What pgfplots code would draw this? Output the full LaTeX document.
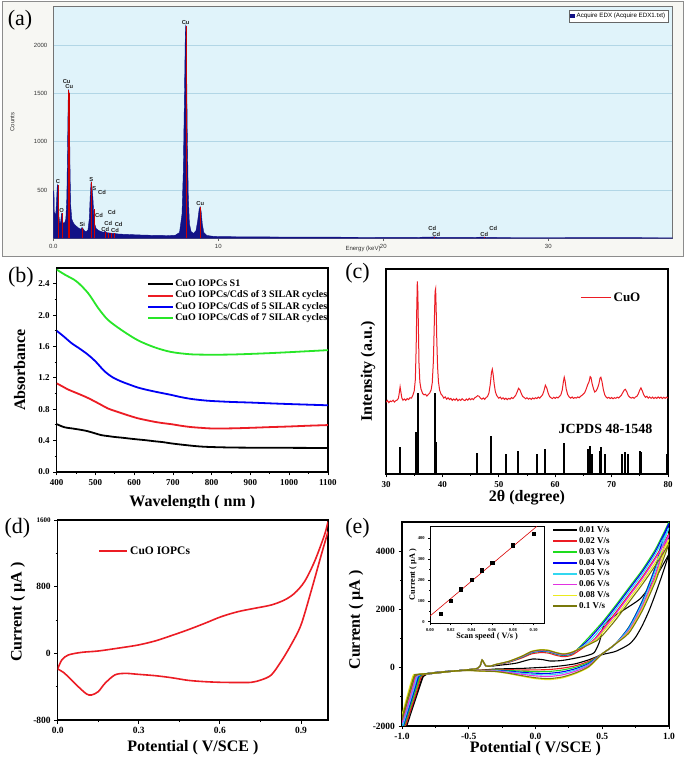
\documentclass[border=0pt]{standalone}
\usepackage{pgfplots}
\pgfplotsset{compat=1.18}
\usepackage{fontspec}
\setmainfont{Liberation Serif}
\newfontfamily\arial{Liberation Sans}

\definecolor{edxnavy}{RGB}{18,18,135}
\definecolor{edxbg}{RGB}{224,243,250}
\definecolor{edxgrid}{RGB}{178,214,230}
\definecolor{framebg}{RGB}{247,247,243}
\definecolor{cred}{RGB}{236,28,36}
\definecolor{cgreen}{RGB}{30,220,30}
\definecolor{cblue}{RGB}{0,0,245}
\definecolor{ccyan}{RGB}{50,215,240}
\definecolor{cmag}{RGB}{225,50,225}
\definecolor{cyel}{RGB}{235,235,30}
\definecolor{colive}{RGB}{120,120,10}
\definecolor{bgreen}{RGB}{40,230,40}

\pgfplotsset{
  originstyle/.style={
    scale only axis, anchor=south west,
    axis line style={line width=1.4pt},
    tick align=outside, xtick pos=bottom, ytick pos=left,
    major tick length=3.5pt, minor tick length=2pt,
    tick style={black, line width=0.9pt},
    tick label style={font=\fontsize{9}{10}\selectfont\bfseries},
    /pgf/number format/assume math mode=true,
    /pgf/number format/1000 sep={},
    label style={font=\fontsize{16}{18}\selectfont\bfseries},
    legend cell align=left,
  },
}
\tikzset{lbl/.style={font=\arial\fontsize{5.8}{6}\selectfont\bfseries, text=black!85, inner sep=0pt}}

\begin{document}
\begin{tikzpicture}
\useasboundingbox (0pt,0pt) rectangle (685pt,767pt);
\fill[white] (0pt,0pt) rectangle (685pt,767pt);
\filldraw[fill=framebg, draw=black!45, line width=0.7pt] (2pt,511pt) rectangle (683pt,766pt);

% ---------------- (a) EDX ----------------
\begin{axis}[scale only axis, anchor=south west, at={(53.3pt,528.7pt)},
  width=619.4pt, height=232.3pt,
  xmin=0, xmax=37.54, ymin=0, ymax=2403,
  axis background/.style={fill=edxbg},
  axis line style={draw=black!55, line width=0.6pt},
  xtick={0,10,20,30}, xticklabels={0.0,10,20,30},
  ytick={500,1000,1500,2000},
  ymajorgrids, grid style={edxgrid, line width=0.7pt},
  tick align=outside, xtick pos=bottom, ytick pos=left,
  major tick length=2.5pt,
  xtick style={black!60, line width=0.5pt}, ytick style={draw=none},
  tick label style={font=\arial\fontsize{6}{7}\selectfont, text=black!80},
  /pgf/number format/assume math mode=true, /pgf/number format/1000 sep={},
  xlabel={Energy (keV)}, ylabel={Counts},
  label style={font=\arial\fontsize{6}{7}\selectfont, text=black!80},
  xlabel style={at={(axis description cs:0.5,0)}, anchor=center, yshift=-11pt},
  ylabel style={at={(axis description cs:0,0.5)}, anchor=center, yshift=41pt},
  legend style={at={(axis description cs:1,1)}, anchor=north east, xshift=-4.5pt, yshift=-4pt,
    font=\arial\fontsize{6.2}{6.5}\selectfont, draw=black!60, fill=white, inner sep=0.8pt},
  legend image code/.code={\fill[edxnavy] (0pt,-1.7pt) rectangle (4.5pt,1.7pt);},
]
\addplot[fill=edxnavy, draw=edxnavy, line width=0.4pt] coordinates {
(0,0) (0.01,490) (0.04,480) (0.06,270) (0.1,255) (0.15,245) (0.2,400) (0.24,540) (0.27,555)
(0.3,470) (0.34,230) (0.4,150) (0.45,175) (0.5,258) (0.54,245) (0.58,165) (0.63,155) (0.7,165)
(0.76,200) (0.82,420) (0.86,900) (0.9,1420) (0.93,1540) (0.96,1500) (0.99,1100) (1.02,640)
(1.06,330) (1.12,200) (1.2,165) (1.3,140) (1.4,125) (1.5,110) (1.6,100) (1.68,95) (1.74,112)
(1.8,100) (1.9,75) (2.0,70) (2.1,85) (2.18,200) (2.24,450) (2.29,585) (2.34,540) (2.4,420)
(2.45,250) (2.5,150) (2.6,100) (2.75,80) (2.9,70) (3.05,62) (3.13,72) (3.25,58) (3.4,55)
(3.55,52) (3.7,50) (3.9,45) (4.2,42) (4.5,40) (5,36) (5.5,33) (6,31) (6.5,30) (7,28) (7.4,32)
(7.65,60) (7.8,250) (7.88,700) (7.95,1500) (8.0,2100) (8.03,2210) (8.07,1950) (8.12,1100)
(8.18,450) (8.25,150) (8.35,70) (8.5,50) (8.65,80) (8.75,180) (8.84,300) (8.9,328) (8.96,280)
(9.03,150) (9.12,60) (9.3,30) (9.6,22) (10,18) (11,16) (12,15) (14,13) (16,12) (18,11) (20,10)
(22,10) (23.1,14) (23.3,10) (25,9) (26.1,12) (26.4,9) (28,8) (30,8) (33,7) (36,6) (37.6,5)
} \closedcycle;
\addlegendentry{Acquire EDX (Acquire EDX1.txt)}
\addplot[ycomb, mark=none, draw=red!80!black, line width=0.45pt, forget plot] coordinates {
(0.277,550) (0.525,258) (0.93,1530) (0.95,1500) (1.74,110) (2.31,580) (2.46,300)
(3.13,70) (3.32,58) (3.53,52) (3.72,50) (8.04,2200) (8.9,328) (23.1,14) (26.1,12)};
\node[lbl] at (axis cs:8.02,2234) {Cu};
\node[lbl] at (axis cs:0.81,1627) {Cu};
\node[lbl] at (axis cs:0.97,1568) {Cu};
\node[lbl] at (axis cs:0.28,585) {C};
\node[lbl] at (axis cs:0.51,285) {O};
\node[lbl] at (axis cs:1.76,148) {Si};
\node[lbl] at (axis cs:2.30,613) {S};
\node[lbl] at (axis cs:2.48,517) {S};
\node[lbl] at (axis cs:2.95,472) {Cd};
\node[lbl] at (axis cs:2.77,241) {Cd};
\node[lbl] at (axis cs:3.54,269) {Cd};
\node[lbl] at (axis cs:3.33,151) {Cd};
\node[lbl] at (axis cs:3.96,141) {Cd};
\node[lbl] at (axis cs:3.15,93) {Cd};
\node[lbl] at (axis cs:3.74,86) {Cd};
\node[lbl] at (axis cs:8.91,365) {Cu};
\node[lbl] at (axis cs:22.97,99) {Cd};
\node[lbl] at (axis cs:23.21,41) {Cd};
\node[lbl] at (axis cs:26.67,99) {Cd};
\node[lbl] at (axis cs:26.12,41) {Cd};
\end{axis}

% ---------------- (b) Absorbance ----------------
\begin{axis}[originstyle, at={(56.7pt,295pt)}, width=271.3pt, height=204pt,
  xmin=400, xmax=1100, ymin=0, ymax=2.6,
  xtick={400,500,...,1100}, minor x tick num=1,
  ytick={0,0.4,0.8,1.2,1.6,2.0,2.4}, minor y tick num=1,
  yticklabel style={/pgf/number format/fixed, /pgf/number format/fixed zerofill, /pgf/number format/precision=1},
  xlabel={Wavelength ( nm )}, ylabel={Absorbance},
  xlabel style={at={(axis description cs:0.5,0)}, anchor=center, yshift=-31pt},
  ylabel style={at={(axis description cs:0,0.5)}, anchor=center, yshift=37pt},
  legend style={at={(axis description cs:0.322,0.958)}, anchor=north west, draw=none, fill=none,
    font=\fontsize{10}{11}\selectfont\bfseries, nodes={inner sep=1pt, text height=7pt, text depth=2.2pt}},
  legend image code/.code={\draw[#1, line width=2pt] (0pt,0pt) -- (25pt,0pt);},
  every axis plot/.append style={line width=1.8pt, smooth},
]
\addplot[black] coordinates {(400,0.61) (420,0.57) (440,0.555) (464,0.536) (480,0.52) (498,0.494) (515,0.47) (532,0.458) (550,0.446) (567,0.438) (590,0.425) (609,0.415) (630,0.405) (652,0.392) (675,0.38) (695,0.365) (720,0.35) (746,0.336) (770,0.325) (800,0.318) (850,0.312) (900,0.31) (950,0.31) (1000,0.308) (1050,0.307) (1100,0.306)};
\addlegendentry{CuO IOPCs S1}
\addplot[cred] coordinates {(400,1.13) (415,1.09) (430,1.05) (447,1.015) (464,0.98) (480,0.945) (498,0.90) (515,0.855) (532,0.81) (550,0.778) (567,0.75) (590,0.713) (609,0.685) (630,0.662) (652,0.64) (675,0.622) (695,0.61) (720,0.59) (746,0.573) (775,0.562) (800,0.555) (850,0.556) (900,0.563) (950,0.572) (1000,0.58) (1050,0.59) (1100,0.598)};
\addlegendentry{CuO IOPCs/CdS of 3 SILAR cycles}
\addplot[cblue] coordinates {(400,1.80) (420,1.72) (438,1.643) (460,1.57) (481,1.494) (500,1.41) (524,1.281) (545,1.205) (567,1.153) (590,1.11) (609,1.077) (630,1.05) (652,1.026) (675,1.003) (695,0.983) (720,0.955) (746,0.932) (775,0.915) (800,0.905) (850,0.893) (900,0.885) (950,0.875) (1000,0.866) (1050,0.858) (1100,0.85)};
\addlegendentry{CuO IOPCs/CdS of 5 SILAR cycles}
\addplot[bgreen] coordinates {(400,2.58) (421,2.515) (451,2.43) (481,2.28) (507,2.09) (532,1.94) (567,1.81) (609,1.68) (652,1.59) (695,1.53) (746,1.50) (800,1.495) (850,1.497) (900,1.505) (950,1.515) (1000,1.527) (1050,1.54) (1100,1.553)};
\addlegendentry{CuO IOPCs/CdS of 7 SILAR cycles}
\end{axis}
\fill[white] (90pt,250pt) rectangle (310pt,259pt);

% ---------------- (c) XRD ----------------
\begin{axis}[originstyle, at={(386pt,293pt)}, width=282pt, height=205pt,
  xmin=30, xmax=80, ymin=0, ymax=100,
  xtick={30,40,...,80}, minor x tick num=1, ytick=\empty,
  xlabel={2θ (degree)}, ylabel={Intensity (a.u.)},
  xlabel style={at={(axis description cs:0.5,0)}, anchor=center, yshift=-23.5pt},
  ylabel style={at={(axis description cs:0,0.5)}, anchor=center, yshift=18pt},
  legend style={at={(axis description cs:0.688,0.86)}, anchor=west, draw=none, fill=none,
    font=\fontsize{13}{14}\selectfont\bfseries, inner sep=0pt},
  legend image code/.code={\draw[#1, line width=1.4pt] (0pt,0pt) -- (30pt,0pt);},
]
\addplot[cred, line width=1pt] coordinates {
(30.00,35.0) (30.25,35.9) (30.50,34.8) (30.75,35.6) (31.00,35.3) (31.25,36.0) (31.50,35.1) (31.75,35.8) (32.00,36.1)
(32.20,37.0) (32.35,39.5) (32.50,42.5) (32.65,39.8) (32.80,37.2) (33.00,36.0)
(33.25,36.6) (33.50,35.9) (33.75,36.8) (34.00,36.3) (34.25,37.2) (34.50,37.0) (34.75,38.3) (35.00,40.5)
(35.20,46) (35.35,62) (35.45,80) (35.55,94.0) (35.65,88) (35.75,70) (35.85,54) (36.0,45) (36.2,41.5)
(36.5,39.2) (36.75,38.6) (37.0,38.9) (37.25,38.0) (37.5,38.8) (37.75,39.5) (38.0,41.0) (38.2,44.5)
(38.4,55) (38.55,72) (38.7,89) (38.8,90.3) (38.9,80) (39.0,66) (39.15,52) (39.3,45) (39.5,41)
(39.75,39.0) (40.0,38.2) (40.25,37.0) (40.5,37.6) (40.75,36.5) (41.0,37.2) (41.25,36.3) (41.5,36.9)
(41.75,35.9) (42.0,36.6) (42.25,36.0) (42.5,36.8) (42.75,35.7) (43.0,36.4) (43.25,35.9) (43.5,36.7)
(43.75,36.1) (44.0,35.8) (44.25,36.6) (44.5,36.0) (44.75,36.9) (45.0,36.2) (45.25,36.8) (45.5,36.3)
(45.75,37.2) (46.0,37.6) (46.25,38.2) (46.5,37.9) (46.75,37.0) (47.0,36.5) (47.25,37.1) (47.5,36.4)
(47.75,37.3) (48.0,37.8) (48.25,39.5) (48.5,44) (48.7,49.5) (48.85,51.1) (49.0,48.5) (49.2,43.5)
(49.4,40.0) (49.6,38.5) (49.8,37.6) (50.0,37.0) (50.25,37.5) (50.5,36.6) (50.75,37.2) (51.0,36.4)
(51.25,37.0) (51.5,36.3) (51.75,36.9) (52.0,36.5) (52.25,37.3) (52.5,36.8) (52.75,37.6) (53.0,38.4)
(53.25,40.0) (53.5,41.8) (53.75,41.0) (54.0,39.2) (54.25,37.8) (54.5,37.3) (54.75,36.7) (55.0,37.2)
(55.25,36.5) (55.5,37.0) (55.75,36.4) (56.0,37.1) (56.25,36.6) (56.5,37.2) (56.75,36.8) (57.0,37.5)
(57.25,37.0) (57.5,37.8) (57.75,38.6) (58.0,40.5) (58.25,43.3) (58.5,42.0) (58.75,39.5) (59.0,37.8)
(59.25,37.2) (59.5,36.8) (59.75,37.4) (60.0,36.9) (60.25,37.5) (60.5,37.1) (60.75,37.8) (61.0,38.6)
(61.25,41.0) (61.45,45) (61.6,47.2) (61.75,45.5) (61.95,41.5) (62.2,38.8) (62.5,37.5) (62.75,37.0)
(63.0,37.6) (63.25,36.9) (63.5,37.3) (63.75,37.0) (64.0,37.6) (64.25,37.2) (64.5,37.9) (64.75,38.4)
(65.0,39.0) (65.25,39.8) (65.5,41.5) (65.75,43.5) (66.0,45.0) (66.2,47.5) (66.35,47.0) (66.55,44.0)
(66.8,41.5) (67.0,40.0) (67.25,40.5) (67.5,41.8) (67.75,44.0) (67.95,46.8) (68.1,47.2) (68.3,45.0)
(68.55,41.0) (68.8,38.5) (69.0,37.6) (69.25,37.0) (69.5,37.4) (69.75,36.8) (70.0,37.3) (70.25,36.7)
(70.5,37.2) (70.75,36.9) (71.0,37.5) (71.25,37.1) (71.5,37.8) (71.75,38.5) (72.0,39.8) (72.25,41.0)
(72.45,41.3) (72.7,40.0) (72.95,38.3) (73.2,37.5) (73.5,37.0) (73.75,37.4) (74.0,36.9) (74.25,37.6)
(74.5,37.9) (74.75,39.2) (75.0,41.0) (75.2,42.0) (75.45,40.5) (75.7,38.6) (76.0,37.4) (76.25,37.9)
(76.5,37.0) (76.75,37.6) (77.0,36.9) (77.25,37.5) (77.5,36.8) (77.75,37.4) (78.0,36.9) (78.25,37.6)
(78.5,37.0) (78.75,37.5) (79.0,36.8) (79.25,37.4) (79.5,36.9) (79.75,37.5) (80.0,37.0)};
\addlegendentry{CuO}
\addplot[ycomb, mark=none, black, line width=2pt, forget plot] coordinates {
(32.5,13.1) (35.4,20.5) (35.6,39.4) (38.7,39.4) (38.95,15.4) (46.2,10.2) (48.7,18.3) (51.3,9.7)
(53.4,11.4) (56.7,9.7) (58.2,12.3) (61.5,15.3) (65.8,12.3) (66.2,13.5) (66.45,9.7) (67.9,11)
(68.1,13.3) (68.9,9.7) (71.8,9.7) (72.4,10.6) (72.9,9.7) (75.0,11) (75.25,10.7) (79.8,9.7)};
\node[font=\fontsize{14}{16}\selectfont\bfseries, anchor=center] at (axis description cs:0.778,0.22) {JCPDS 48-1548};
\end{axis}

% ---------------- (d) CV ----------------
\begin{axis}[originstyle, at={(57.7pt,47pt)}, width=270.3pt, height=200pt,
  xmin=0, xmax=1, ymin=-800, ymax=1600,
  xtick={0,0.3,0.6,0.9}, minor x tick num=1,
  ytick={-800,0,800,1600}, yticklabels={-800,0,800,{\fontsize{7}{8}\selectfont\bfseries 1600}}, minor y tick num=1,
  xticklabel style={/pgf/number format/fixed, /pgf/number format/fixed zerofill, /pgf/number format/precision=1},
  tick label style={font=\fontsize{9.5}{10}\selectfont\bfseries},
  xlabel={Potential ( V/SCE )}, ylabel={Current ( µA )},
  xlabel style={at={(axis description cs:0.5,0)}, anchor=center, yshift=-28pt},
  ylabel style={at={(axis description cs:0,0.54)}, anchor=center, yshift=40pt},
  legend style={at={(axis description cs:0.15,0.845)}, anchor=west, draw=none, fill=none,
    font=\fontsize{11.5}{12}\selectfont\bfseries, inner sep=0pt},
  legend image code/.code={\draw[#1, line width=1.8pt] (0pt,0pt) -- (28pt,0pt);},
]
\addplot[cred, line width=1.6pt, smooth, tension=0.5] coordinates {
(0,-188) (0.015,-80) (0.039,-20) (0.089,12) (0.15,28) (0.236,68) (0.298,100) (0.36,148) (0.42,212)
(0.48,280) (0.544,360) (0.605,440) (0.667,500) (0.728,540) (0.79,580) (0.839,640) (0.876,720)
(0.913,860) (0.95,1100) (0.987,1420) (1.0,1580)};
\addlegendentry{CuO IOPCs}
\addplot[cred, line width=1.6pt, smooth, tension=0.5, forget plot] coordinates {
(1.0,1460) (0.975,1180) (0.937,740) (0.9,340) (0.863,100) (0.826,-100) (0.79,-260) (0.752,-320)
(0.716,-348) (0.667,-350) (0.605,-348) (0.544,-340) (0.482,-324) (0.42,-292) (0.36,-268) (0.298,-252)
(0.248,-240) (0.211,-260) (0.175,-360) (0.15,-460) (0.125,-500) (0.107,-488) (0.076,-400) (0.045,-300)
(0.021,-228) (0,-188)};
\end{axis}

% ---------------- (e) CV scan rates ----------------
\begin{axis}[originstyle, at={(402pt,41pt)}, width=267pt, height=204pt,
  xmin=-1, xmax=1, ymin=-2000, ymax=5000,
  xtick={-1,-0.5,0,0.5,1}, minor x tick num=1,
  ytick={-2000,0,2000,4000}, minor y tick num=1,
  xticklabel style={/pgf/number format/fixed, /pgf/number format/fixed zerofill, /pgf/number format/precision=1},
  tick label style={font=\fontsize{9.5}{10}\selectfont\bfseries},
  xlabel={Potential ( V/SCE )}, ylabel={Current ( µA )},
  xlabel style={at={(axis description cs:0.5,0)}, anchor=center, yshift=-23pt},
  ylabel style={at={(axis description cs:0,0.52)}, anchor=center, yshift=46pt},
  legend style={at={(axis description cs:0.551,0.998)}, anchor=north west, draw=none, fill=none,
    font=\fontsize{9}{10}\selectfont\bfseries, nodes={inner sep=0.9pt, text height=6.8pt, text depth=2.3pt}},
  legend image code/.code={\draw[#1, line width=1.8pt] (0pt,0pt) -- (24pt,0pt);},
  every axis plot/.append style={line width=1.1pt, smooth, tension=0.4},
]
% black 0.01
\addplot[black] coordinates {(-0.965,-2000) (-0.92,-1380) (-0.88,-830) (-0.855,-480) (-0.84,-300) (-0.82,-235) (-0.8,-210) (-0.7,-160) (-0.6,-110) (-0.5,-65) (-0.44,-30) (-0.415,60) (-0.40,250) (-0.385,150) (-0.37,60) (-0.34,45) (-0.3,70) (-0.2,120) (-0.14,160) (-0.07,250) (-0.02,300) (0.05,280) (0.11,230) (0.18,240) (0.23,270) (0.3,330) (0.38,410) (0.44,520) (0.48,900) (0.51,1450) (0.56,1680) (0.65,1950) (0.78,2350) (0.85,2750) (0.92,3250) (1.0,3900)};
\addlegendentry{0.01 V/s}
\addplot[black, forget plot] coordinates {(1.0,3900) (0.95,3200) (0.9,2550) (0.85,1950) (0.8,1450) (0.75,1050) (0.7,800) (0.6,560) (0.5,450) (0.4,272) (0.3,136) (0.2,68) (0.1,23) (0.0,0) (-0.1,-23) (-0.2,-34) (-0.3,-45) (-0.4,-80) (-0.5,-85) (-0.6,-105) (-0.7,-140) (-0.8,-190) (-0.825,-240) (-0.848,-330) (-0.975,-2000)};
% red 0.02
\addplot[cred] coordinates {(-0.975,-2000) (-0.93,-1380) (-0.89,-820) (-0.868,-480) (-0.855,-300) (-0.835,-235) (-0.8,-210) (-0.7,-160) (-0.6,-110) (-0.5,-65) (-0.44,-30) (-0.415,60) (-0.40,255) (-0.385,150) (-0.37,60) (-0.34,50) (-0.3,93) (-0.2,186) (-0.1,339) (-0.03,474) (0.04,520) (0.1,500) (0.15,430) (0.21,380) (0.28,450) (0.43,930) (0.5,1310) (0.6,1890) (0.7,2500) (0.8,3110) (0.9,3800) (1.0,4600)};
\addlegendentry{0.02 V/s}
\addplot[cred, forget plot] coordinates {(1.0,4600) (0.95,3980) (0.9,3220) (0.8,2116) (0.7,1288) (0.6,820) (0.55,640) (0.5,480) (0.4,222) (0.3,68) (0.2,-16) (0.1,-63) (0.0,-75) (-0.1,-77) (-0.2,-68) (-0.3,-63) (-0.4,-88) (-0.5,-85) (-0.6,-105) (-0.7,-140) (-0.8,-190) (-0.84,-240) (-0.863,-330) (-0.985,-2000)};
% green 0.03
\addplot[cgreen] coordinates {(-0.985,-2000) (-0.94,-1380) (-0.9,-820) (-0.878,-480) (-0.865,-300) (-0.845,-235) (-0.8,-210) (-0.7,-160) (-0.6,-110) (-0.5,-65) (-0.44,-30) (-0.415,60) (-0.40,260) (-0.385,155) (-0.37,60) (-0.34,50) (-0.3,100) (-0.2,201) (-0.1,365) (-0.03,511) (0.04,560) (0.1,540) (0.15,470) (0.21,420) (0.28,490) (0.38,950) (0.5,1560) (0.6,2140) (0.7,2750) (0.8,3360) (0.9,4080) (1.0,5000)};
\addlegendentry{0.03 V/s}
\addplot[cgreen, forget plot] coordinates {(1.0,5000) (0.95,4380) (0.9,3500) (0.8,2300) (0.7,1400) (0.6,820) (0.55,640) (0.5,480) (0.4,185) (0.3,17) (0.2,-79) (0.1,-128) (0.0,-131) (-0.1,-118) (-0.2,-94) (-0.3,-77) (-0.4,-94) (-0.5,-85) (-0.6,-105) (-0.7,-140) (-0.8,-190) (-0.85,-240) (-0.873,-330) (-0.995,-2000)};
% blue 0.04
\addplot[cblue] coordinates {(-0.99,-2000) (-0.948,-1380) (-0.91,-820) (-0.888,-480) (-0.875,-300) (-0.855,-235) (-0.8,-210) (-0.7,-160) (-0.6,-110) (-0.5,-65) (-0.44,-30) (-0.415,60) (-0.40,262) (-0.385,155) (-0.37,60) (-0.34,50) (-0.3,103) (-0.2,206) (-0.1,374) (-0.03,524) (0.04,575) (0.1,555) (0.15,485) (0.21,435) (0.28,505) (0.39,930) (0.5,1500) (0.6,2080) (0.7,2690) (0.8,3300) (0.9,4010) (1.0,4950)};
\addlegendentry{0.04 V/s}
\addplot[cblue, forget plot] coordinates {(1.0,4950) (0.95,4330) (0.9,3465) (0.8,2277) (0.7,1386) (0.6,820) (0.55,640) (0.5,480) (0.4,147) (0.3,-34) (0.2,-142) (0.1,-193) (0.0,-188) (-0.1,-159) (-0.2,-120) (-0.3,-91) (-0.4,-100) (-0.5,-88) (-0.6,-105) (-0.7,-140) (-0.8,-190) (-0.86,-240) (-0.883,-330) (-1.0,-2000)};
% cyan 0.05
\addplot[ccyan] coordinates {(-0.995,-2000) (-0.955,-1380) (-0.918,-820) (-0.897,-480) (-0.885,-300) (-0.865,-235) (-0.8,-210) (-0.7,-160) (-0.6,-110) (-0.5,-65) (-0.44,-30) (-0.415,60) (-0.40,264) (-0.385,155) (-0.37,60) (-0.34,50) (-0.3,105) (-0.2,210) (-0.1,381) (-0.03,534) (0.04,585) (0.1,565) (0.15,495) (0.21,445) (0.28,515) (0.41,930) (0.5,1410) (0.6,1990) (0.7,2600) (0.8,3210) (0.9,3920) (1.0,4800)};
\addlegendentry{0.05 V/s}
\addplot[ccyan, forget plot] coordinates {(1.0,4800) (0.95,4180) (0.9,3360) (0.8,2208) (0.7,1344) (0.6,820) (0.55,640) (0.5,480) (0.4,117) (0.3,-75) (0.2,-192) (0.1,-245) (0.0,-233) (-0.1,-192) (-0.2,-140) (-0.3,-101) (-0.4,-105) (-0.5,-90) (-0.6,-108) (-0.7,-142) (-0.8,-192) (-0.87,-240) (-0.893,-330) (-1.0,-1950)};
% magenta 0.06
\addplot[cmag] coordinates {(-1.0,-1900) (-0.962,-1380) (-0.926,-820) (-0.906,-480) (-0.895,-300) (-0.875,-235) (-0.8,-210) (-0.7,-160) (-0.6,-110) (-0.5,-65) (-0.44,-30) (-0.415,60) (-0.40,266) (-0.385,155) (-0.37,60) (-0.34,50) (-0.3,107) (-0.2,213) (-0.1,388) (-0.03,543) (0.04,595) (0.1,575) (0.15,505) (0.21,455) (0.28,525) (0.435,930) (0.5,1260) (0.6,1840) (0.7,2450) (0.8,3060) (0.9,3750) (1.0,4550)};
\addlegendentry{0.06 V/s}
\addplot[cmag, forget plot] coordinates {(1.0,4550) (0.95,3930) (0.9,3185) (0.8,2093) (0.7,1274) (0.6,820) (0.55,640) (0.5,480) (0.4,85) (0.3,-119) (0.2,-247) (0.1,-301) (0.0,-281) (-0.1,-227) (-0.2,-162) (-0.3,-113) (-0.4,-110) (-0.5,-92) (-0.6,-110) (-0.7,-144) (-0.8,-194) (-0.88,-240) (-0.903,-330) (-1.0,-1820)};
% yellow 0.08
\addplot[cyel] coordinates {(-1.0,-1700) (-0.975,-1300) (-0.945,-800) (-0.926,-480) (-0.915,-300) (-0.892,-235) (-0.8,-205) (-0.7,-160) (-0.6,-110) (-0.5,-65) (-0.44,-30) (-0.415,60) (-0.40,270) (-0.385,158) (-0.37,60) (-0.34,50) (-0.3,111) (-0.2,222) (-0.1,404) (-0.03,565) (0.04,620) (0.1,600) (0.15,530) (0.21,480) (0.28,550) (0.445,930) (0.5,1200) (0.6,1740) (0.7,2350) (0.8,2960) (0.9,3630) (1.0,4400)};
\addlegendentry{0.08 V/s}
\addplot[cyel, forget plot] coordinates {(1.0,4400) (0.95,3780) (0.9,3080) (0.8,2024) (0.7,1232) (0.6,820) (0.55,640) (0.5,480) (0.4,22) (0.3,-204) (0.2,-352) (0.1,-409) (0.0,-375) (-0.1,-295) (-0.2,-205) (-0.3,-136) (-0.4,-120) (-0.5,-95) (-0.6,-112) (-0.7,-146) (-0.8,-196) (-0.9,-240) (-0.922,-330) (-1.0,-1620)};
% olive 0.1
\addplot[colive] coordinates {(-1.0,-1800) (-0.968,-1300) (-0.936,-800) (-0.916,-480) (-0.905,-300) (-0.884,-235) (-0.8,-207) (-0.7,-160) (-0.6,-110) (-0.5,-65) (-0.44,-30) (-0.415,60) (-0.40,268) (-0.385,157) (-0.37,60) (-0.34,50) (-0.3,109) (-0.2,218) (-0.1,397) (-0.03,556) (0.04,610) (0.1,590) (0.15,520) (0.21,470) (0.28,540) (0.46,930) (0.5,1100) (0.6,1640) (0.7,2250) (0.8,2860) (0.9,3520) (1.0,4250)};
\addlegendentry{0.1 V/s}
\addplot[colive, forget plot] coordinates {(1.0,4250) (0.95,3630) (0.9,2975) (0.8,1955) (0.7,1190) (0.6,820) (0.55,640) (0.5,480) (0.4,42) (0.3,-177) (0.2,-318) (0.1,-374) (0.0,-345) (-0.1,-273) (-0.2,-191) (-0.3,-129) (-0.4,-117) (-0.5,-94) (-0.6,-111) (-0.7,-145) (-0.8,-195) (-0.89,-240) (-0.913,-330) (-1.0,-1720)};
\end{axis}

% ---------------- (e) inset ----------------
\begin{axis}[scale only axis, anchor=south west, at={(430pt,143.7pt)}, width=114pt, height=97.3pt,
  xmin=0, xmax=0.11, ymin=-8, ymax=460,
  axis background/.style={fill=white},
  axis line style={line width=0.7pt},
  tick align=outside, xtick pos=bottom, ytick pos=left,
  major tick length=1.8pt, minor tick length=1pt,
  tick style={black, line width=0.5pt},
  xtick={0,0.02,0.04,0.06,0.08,0.10}, minor x tick num=1,
  ytick={0,100,200,300,400}, minor y tick num=1,
  xticklabel style={/pgf/number format/fixed, /pgf/number format/fixed zerofill, /pgf/number format/precision=2},
  tick label style={font=\fontsize{4.5}{5}\selectfont\bfseries},
  /pgf/number format/assume math mode=true,
  xlabel={Scan speed ( V/s )}, ylabel={Current ( µA )},
  label style={font=\fontsize{8.2}{9}\selectfont\bfseries},
  xlabel style={at={(axis description cs:0.5,0)}, anchor=center, yshift=-13pt},
  ylabel style={at={(axis description cs:0,0.5)}, anchor=center, yshift=17pt},
]
\addplot[red!85!black, line width=0.6pt] coordinates {(0,27) (0.103,458)};
\addplot[only marks, mark=square*, mark size=1.6pt, black] coordinates {(0.01,40) (0.02,100) (0.03,156) (0.04,203) (0.05,247) (0.06,284) (0.08,368) (0.10,424)};
\end{axis}

% panel letters
\node[font=\fontsize{22}{24}\selectfont] at (20pt,747pt) {(a)};
\node[font=\fontsize{22}{24}\selectfont] at (21pt,490pt) {(b)};
\node[font=\fontsize{22}{24}\selectfont] at (357.5pt,494pt) {(c)};
\node[font=\fontsize{22}{24}\selectfont] at (17.5pt,239pt) {(d)};
\node[font=\fontsize{22}{24}\selectfont] at (357.5pt,239pt) {(e)};
\end{tikzpicture}
\end{document}
